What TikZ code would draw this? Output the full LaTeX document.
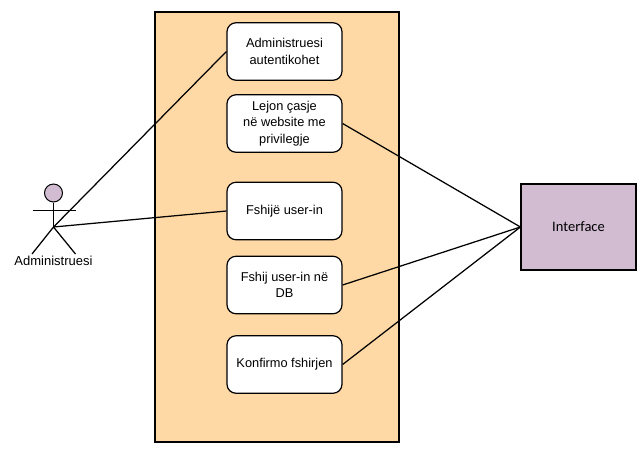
\documentclass[tikz,border=0pt]{standalone}
\usepackage{fontspec}
\setmainfont{Liberation Sans}
\newfontfamily\ifacefont{Carlito}
\definecolor{sysfill}{RGB}{255,217,165}
\definecolor{lilac}{RGB}{209,188,210}
\tikzset{
  usecase/.style={draw,line width=1.2pt,rounded corners=9pt,fill=white,minimum width=115pt,minimum height=57.5pt,align=center,inner sep=1pt,font=\fontsize{12.8}{16.5}\selectfont},
  link/.style={line width=1.25pt}
}
\begin{document}
\begin{tikzpicture}[x=1pt,y=-1pt]
\useasboundingbox (0,0) rectangle (644,459);
\node[draw,line width=1.2pt,fill=sysfill,minimum width=244pt,minimum height=430pt,inner sep=0pt] (system) at (277,227) {};

\node[usecase] (auth) at (284.5,51.5) {Administruesi\\autentikohet};
\node[usecase] (access) at (284.5,123.5) {Lejon çasje\\në website me\\privilegje};
\node[usecase] (deluser) at (284.5,211) {Fshijë user-in};
\node[usecase] (deldb) at (284.5,285) {Fshij user-in në\\DB};
\node[usecase] (confirm) at (284.5,364.5) {Konfirmo fshirjen};

\node[draw,line width=1.2pt,fill=lilac,minimum width=115pt,minimum height=86pt,inner sep=0pt,font=\ifacefont\fontsize{14.5}{16}\selectfont] (iface) at (578.5,227) {Interface};

% actor
\node[circle,draw,line width=1pt,fill=lilac,minimum size=18pt,inner sep=0pt] (head) at (53.5,193) {};
\coordinate (hip) at (53.5,227);
\coordinate (armL) at (32.5,210.5);
\coordinate (armR) at (75.5,210.5);
\coordinate (footL) at (32,254);
\coordinate (footR) at (75.5,254);
\draw[link] (head.south) -- (hip);
\draw[link] (armL) -- (armR);
\draw[link] (footL) -- (hip) -- (footR);
\node[font=\fontsize{13}{15}\selectfont,inner sep=0pt] (actor) at (53.5,260.5) {Administruesi};

\draw[link] (hip) -- (auth.west);
\draw[link] (hip) -- (deluser.west);
\draw[link] (access.east) -- (iface.west);
\draw[link] (deldb.east) -- (iface.west);
\draw[link] (confirm.east) -- (iface.west);
\end{tikzpicture}
\end{document}
